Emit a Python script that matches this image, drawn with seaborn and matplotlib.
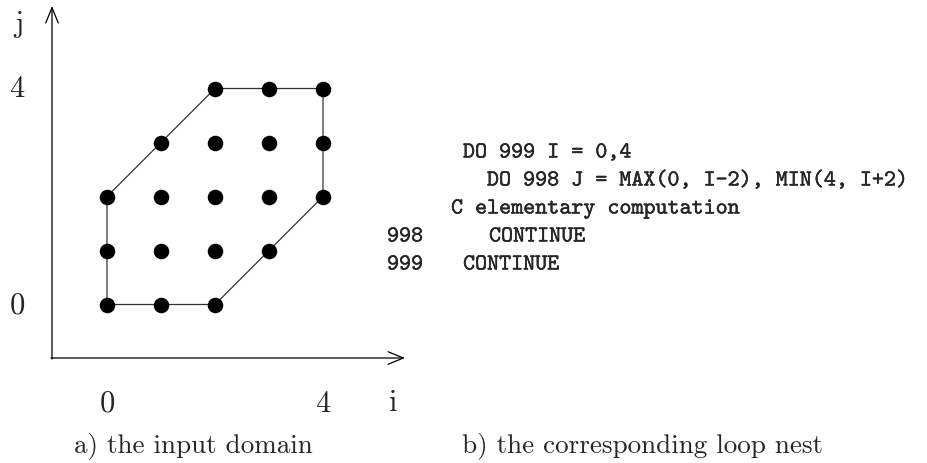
import seaborn as sns
import pandas as pd
import matplotlib.pyplot as plt
import matplotlib.patheffects as pe

# lattice points of the input domain
i_pts = [0, 0, 0, 1, 1, 1, 1, 2, 2, 2, 2, 2, 3, 3, 3, 3, 4, 4, 4]
j_pts = [0, 1, 2, 0, 1, 2, 3, 0, 1, 2, 3, 4, 1, 2, 3, 4, 2, 3, 4]

# boundary of the domain
hull_i = [0, 2, 4, 4, 2, 0, 0]
hull_j = [0, 0, 2, 4, 4, 2, 0]

i_ticks = [0, 4]
j_ticks = [0, 4]

code_lines = [
    "DO 999 I = 0,4",
    "DO 998 J = MAX(0, I-2), MIN(4, I+2)",
    "C elementary computation",
    "998",
    "CONTINUE",
    "999",
    "CONTINUE",
]
captions = ["a) the input domain", "b) the corresponding loop nest"]

sns.set_style('white')
plt.rcParams['font.family'] = ['cmr10', 'DejaVu Serif']
plt.rcParams['axes.formatter.use_mathtext'] = True

fig = plt.figure(figsize=(9.27, 4.64), dpi=100)
ax = fig.add_axes([0, 0, 1, 1])

# 1 lattice unit = 54 px, origin of the lattice at pixel (107, 305.5)
U, X0, Y0 = 54.0, 107.0, 305.5
ax.set_xlim(-X0 / U, (927 - X0) / U)
ax.set_ylim(-(464 - Y0) / U, Y0 / U)
ax.axis('off')


def px(x, y):
    return (x - X0) / U, (Y0 - y) / U


df = pd.DataFrame({'i': i_pts, 'j': j_pts})

ax.plot(hull_i, hull_j, color='#333333', lw=0.9, zorder=1)
sns.scatterplot(data=df, x='i', y='j', ax=ax, s=125, color='black',
                linewidth=0, zorder=2, legend=False)

# coordinate axes with open arrow heads
arrow = dict(arrowstyle='->,head_length=1.1,head_width=0.45', lw=0.9,
             color='black', mutation_scale=10, shrinkA=0, shrinkB=0)
ax.annotate('', xy=px(405, 359), xytext=px(51, 359), arrowprops=arrow)
ax.annotate('', xy=px(52, 7), xytext=px(52, 360), arrowprops=arrow)

fs = 22
for t in i_ticks:
    ax.text(t, px(0, 404)[1], str(t), fontsize=fs, ha='center', va='center')
for t in j_ticks:
    ax.text(px(17, 0)[0], t, str(t), fontsize=fs, ha='center', va='center')
ax.text(*px(393, 403), 'i', fontsize=fs, ha='center', va='center')
ax.text(*px(19, 24), 'j', fontsize=fs, ha='center', va='center')

# loop nest listing
code_x = [463, 487, 451, 387, 489, 387, 463]
code_y = [154, 182, 210, 238, 238, 266, 266]
bold = [pe.withStroke(linewidth=0.2, foreground='black')]
for s, x, y in zip(code_lines, code_x, code_y):
    ax.text(*px(x, y), s, fontsize=16.5, family='cmtt10', ha='left',
            va='center', path_effects=bold)

ax.text(*px(74, 452), captions[0], fontsize=19.5, ha='left', va='baseline')
ax.text(*px(462, 452), captions[1], fontsize=19.5, ha='left', va='baseline')

fig.savefig('out.png', dpi=100)
